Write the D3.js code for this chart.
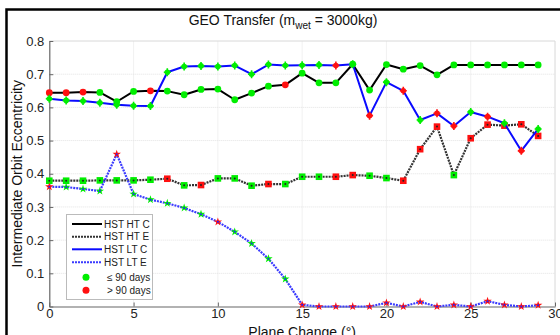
<!DOCTYPE html>
<html><head><meta charset="utf-8">
<script src="https://cdn.jsdelivr.net/npm/d3@7"></script>
<style>body{margin:0;background:#fff}svg{display:block;font-family:"Liberation Sans",Arial,sans-serif}</style>
</head><body><svg id="c" width="560" height="335"></svg>
<script>
const planeChange = d3.range(0, 30);
const xTicks = [0, 5, 10, 15, 20, 25, 30];
const yTicks = [0, 0.1, 0.2, 0.3, 0.4, 0.5, 0.6, 0.7, 0.8];
const htC = [0.644,0.644,0.646,0.645,0.617,0.648,0.650,0.649,0.638,0.654,0.655,0.623,0.643,0.664,0.668,0.703,0.674,0.674,0.730,0.652,0.729,0.715,0.726,0.698,0.728,0.728,0.728,0.728,0.728,0.728];
const htCLate = [1,1,1,0,0,0,1,0,0,0,0,0,0,0,1,0,0,0,0,0,0,0,0,0,0,0,0,0,0,0];
const htE = [0.379,0.379,0.379,0.380,0.380,0.380,0.382,0.385,0.365,0.366,0.386,0.386,0.364,0.369,0.369,0.391,0.391,0.391,0.396,0.394,0.387,0.379,0.474,0.542,0.396,0.507,0.548,0.545,0.549,0.514];
const htELate = [0,0,0,0,0,0,0,1,0,1,0,0,0,1,0,0,0,1,1,0,0,1,1,1,0,1,1,1,1,1];
const ltC = [0.626,0.621,0.619,0.614,0.608,0.605,0.604,0.706,0.723,0.725,0.723,0.726,0.700,0.729,0.726,0.727,0.728,0.726,0.730,0.575,0.676,0.650,0.562,0.582,0.544,0.586,0.572,0.552,0.469,0.535];
const ltCLate = [0,0,0,0,0,0,0,0,0,0,0,0,0,0,0,0,0,1,0,1,0,1,0,1,1,0,1,0,1,0];
const ltE = [0.361,0.360,0.354,0.348,0.459,0.339,0.322,0.311,0.297,0.278,0.255,0.225,0.190,0.144,0.083,0.005,0.000,0.000,0.000,0.000,0.011,0.000,0.014,0.000,0.005,0.000,0.016,0.005,0.000,0.004];
const ltELate = [1,0,0,0,1,0,0,0,0,0,1,0,0,0,0,1,1,1,1,1,1,1,1,1,1,1,1,1,1,1];
const legendLabels = ["HST HT C","HST HT E","HST LT C","HST LT E","\u2264 90 days","> 90 days"];

const svg = d3.select("#c");
const x = d3.scaleLinear().domain([0, 30]).range([49.3, 555]);
const y = d3.scaleLinear().domain([0, 0.8]).range([306.5, 41]);
const GREEN = "#00ee00", RED = "#ff1010";

// outer figure frame
svg.append("rect").attr("x", 6.5).attr("y", 9.5).attr("width", 600).attr("height", 400)
  .attr("fill", "none").attr("stroke", "#000").attr("stroke-width", 2.5);

// grid
const g = svg.append("g");
g.selectAll(".gx").data(xTicks.slice(1, -1)).join("line")
  .attr("x1", d => x(d)).attr("x2", d => x(d)).attr("y1", y(0)).attr("y2", y(0.8))
  .attr("stroke", "#e2e2e2").attr("stroke-dasharray", "1,1");
g.selectAll(".gy").data(yTicks.slice(1, -1)).join("line")
  .attr("x1", x(0)).attr("x2", x(30)).attr("y1", d => y(d)).attr("y2", d => y(d))
  .attr("stroke", "#e2e2e2").attr("stroke-dasharray", "1,1");
g.append("path").attr("d", `M${x(0)},${y(0.8)}H${x(30)}V${y(0)}`).attr("fill", "none").attr("stroke", "#d8d8d8");

// axes
const xa = svg.append("g").attr("transform", `translate(0,${y(0)})`)
  .call(d3.axisBottom(x).tickValues(xTicks).tickFormat(d3.format("d")).tickSizeInner(-4).tickSizeOuter(0).tickPadding(2));
const ya = svg.append("g").attr("transform", `translate(${x(0)},0)`)
  .call(d3.axisLeft(y).tickValues(yTicks).tickFormat(d => d === 0 ? "0" : d3.format(".1f")(d)).tickSizeInner(-4).tickSizeOuter(0).tickPadding(5));
[xa, ya].forEach(a => {
  a.select(".domain").attr("stroke", "#666").attr("stroke-width", 1.2);
  a.selectAll(".tick line").attr("stroke", "#666");
  a.selectAll(".tick text").attr("font-size", 13).attr("fill", "#222").attr("font-family", "Liberation Sans, Arial, sans-serif");
});
xa.selectAll(".tick text").attr("dy", "0.75em");

const line = d3.line().x((d, i) => x(planeChange[i])).y(d => y(d));
const plot = svg.append("g");

function drawSeries(vals, late, stroke, dash, width, shape) {
  plot.append("path").datum(vals).attr("d", line).attr("fill", "none")
    .attr("stroke", stroke).attr("stroke-width", width).attr("stroke-dasharray", dash)
    .attr("stroke-linejoin", "round");
  const pts = plot.append("g").selectAll("g").data(vals).join("g")
    .attr("transform", (d, i) => `translate(${x(planeChange[i])},${y(d)})`);
  const col = (d, i) => late[i] ? RED : GREEN;
  if (shape === "circle") {
    pts.append("circle").attr("r", 3.4).attr("fill", col);
  } else if (shape === "plus") {
    pts.append("circle").attr("r", 2.8).attr("fill", col);
    pts.append("path").attr("d", "M-3.5,0H3.5M0,-4V4").attr("stroke", col).attr("stroke-width", 1.6);
  } else if (shape === "square") {
    pts.append("rect").attr("x", -3.3).attr("y", -3.3).attr("width", 6.6).attr("height", 6.6).attr("fill", col);
    pts.append("circle").attr("r", 1).attr("fill", "#222");
  } else if (shape === "star") {
    pts.append("path").attr("d", d3.symbol(d3.symbolStar, 22)).attr("fill", col);
    pts.append("circle").attr("r", 1).attr("fill", "#22f");
  }
}
drawSeries(htE, htELate, "#333", "2,1", 2.2, "square");
drawSeries(ltE, ltELate, "#3a3aff", "2,1", 2.2, "star");
drawSeries(htC, htCLate, "#000", null, 2, "circle");
drawSeries(ltC, ltCLate, "#0a0aff", null, 2, "plus");

// title
const t = svg.append("text").attr("x", 283).attr("y", 25).attr("text-anchor", "middle")
  .attr("font-size", 14).attr("fill", "#111");
t.append("tspan").text("GEO Transfer (m");
t.append("tspan").attr("font-size", 10).attr("dy", 4).text("wet");
t.append("tspan").attr("dy", -4).text(" = 3000kg)");

// axis labels
svg.append("text").attr("x", x(15)).attr("y", 337).attr("text-anchor", "middle")
  .attr("font-size", 14).attr("fill", "#111").text("Plane Change (\u00b0)");
svg.append("text").attr("transform", `translate(22,${(y(0) + y(0.8)) / 2}) rotate(-90)`)
  .attr("text-anchor", "middle").attr("font-size", 14).attr("fill", "#111").text("Intermediate Orbit Eccentricity");

// legend
const lg = svg.append("g");
lg.append("rect").attr("x", 66.5).attr("y", 214.5).attr("width", 86).attr("height", 85)
  .attr("fill", "#fff").attr("stroke", "#bbb");
const rowsY = [224, 236.7, 249.3, 262.3, 277.3, 290.3];
const lineStyles = [["#000", null], ["#333", "2,1"], ["#0a0aff", null], ["#3a3aff", "2,1"]];
lineStyles.forEach((s, i) => {
  lg.append("line").attr("x1", 72).attr("x2", 102).attr("y1", rowsY[i]).attr("y2", rowsY[i])
    .attr("stroke", s[0]).attr("stroke-width", 2).attr("stroke-dasharray", s[1]);
});
[GREEN, RED].forEach((c, i) => {
  lg.append("circle").attr("cx", 86).attr("cy", rowsY[4 + i]).attr("r", 3.5).attr("fill", c);
});
lg.selectAll("text").data(legendLabels).join("text")
  .attr("x", (d, i) => i < 4 ? 104 : 107).attr("y", (d, i) => rowsY[i]).attr("dy", "0.35em")
  .attr("font-size", 10).attr("fill", "#222").text(d => d);
</script></body></html>
